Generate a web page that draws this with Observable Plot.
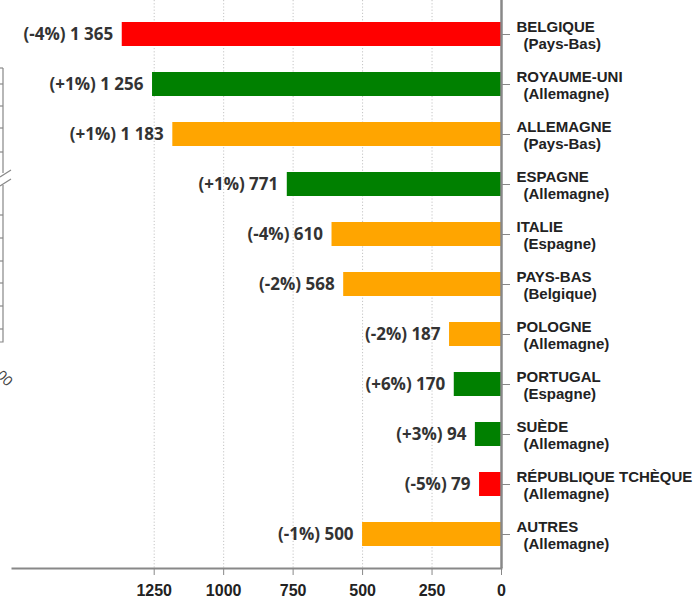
<!DOCTYPE html>
<html>
<head>
<meta charset="utf-8">
<script src="https://cdn.jsdelivr.net/npm/d3@7"></script>
<script src="https://cdn.jsdelivr.net/npm/@observablehq/plot@0.6"></script>
<style>
  html, body { margin: 0; padding: 0; background: #fff; }
  #chart svg { display: block; }
</style>
</head>
<body>
<div id="chart"></div>
<script>
const countries = ["BELGIQUE", "ROYAUME-UNI", "ALLEMAGNE", "ESPAGNE", "ITALIE", "PAYS-BAS", "POLOGNE", "PORTUGAL", "SUÈDE", "RÉPUBLIQUE TCHÈQUE", "AUTRES"];
const partners = ["Pays-Bas", "Allemagne", "Pays-Bas", "Allemagne", "Espagne", "Belgique", "Allemagne", "Espagne", "Allemagne", "Allemagne", "Allemagne"];
const values = [1365, 1256, 1183, 771, 610, 568, 187, 170, 94, 79, 500];
const changes = ["-4%", "+1%", "+1%", "+1%", "-4%", "-2%", "-2%", "+6%", "+3%", "-5%", "-1%"];
const barColors = ["#ff0000", "#008000", "#ffa500", "#008000", "#ffa500", "#ffa500", "#ffa500", "#008000", "#008000", "#ff0000", "#ffa500"];
const xTicks = [0, 250, 500, 750, 1000, 1250];

const data = countries.map((c, i) => ({
  country: c, partner: partners[i], value: values[i], change: changes[i], color: barColors[i]
}));

const fmt = v => d3.format(",")(v).replace(/,/g, " ");

const plot = Plot.plot({
  width: 697,
  height: 598,
  marginTop: 0,
  marginBottom: 30,
  marginLeft: 12,
  marginRight: 196,
  style: { background: "#fff", overflow: "visible" },
  x: { domain: [0, 1760], reverse: true, axis: null },
  y: { domain: countries, range: [8.5, 558.5], paddingInner: 0.52, paddingOuter: 0.26, axis: null },
  color: { type: "identity" },
  marks: [
    Plot.ruleX(xTicks.filter(d => d > 0), { stroke: "#c4c4c4", strokeDasharray: "1.2,2", strokeWidth: 1 }),
    Plot.barX(data, { x: "value", y: "country", fill: "color" }),
    Plot.ruleX([0], { stroke: "#888", strokeWidth: 2.5 }),
    Plot.frame({ anchor: "bottom", stroke: "#888", strokeWidth: 2 }),
    Plot.axisX({ ticks: xTicks, tickSize: 7, tickPadding: 9, tickFormat: d => String(d), fontSize: 16, fontWeight: "bold", fontFamily: "Liberation Sans, Arial, sans-serif", stroke: "#888", fill: "#222", label: null }),
    Plot.axisY({ anchor: "right", tickSize: 8, tickPadding: 0, tickFormat: () => "", stroke: "#888", label: null }),
    Plot.text(data, { x: "value", y: "country", text: d => `(${d.change}) ${fmt(d.value)}`, textAnchor: "end", dx: -9, dy: 0.5, fontSize: 17, fontWeight: "bold", fontFamily: "Open Sans, sans-serif", fill: "#333" }),
    Plot.text(data, { y: "country", frameAnchor: "right", text: "country", textAnchor: "start", dx: 15, dy: -7.5, fontSize: 15, fontWeight: "bold", fontFamily: "Liberation Sans, Arial, sans-serif", fill: "#222" }),
    Plot.text(data, { y: "country", frameAnchor: "right", text: d => `(${d.partner})`, textAnchor: "start", dx: 22, dy: 9.5, fontSize: 15, fontWeight: "bold", fontFamily: "Liberation Sans, Arial, sans-serif", fill: "#222" })
  ]
});

document.getElementById("chart").appendChild(plot);

// decorative fragment of a neighbouring chart visible at the left edge
const svg = d3.select(plot);
const g = svg.append("g").attr("fill", "none").attr("stroke", "#888").attr("stroke-width", 1.2);
g.append("path").attr("d", "M3,68V173M3,185V342H0");
[68, 84, 106, 128, 152, 215, 238, 261, 283, 306, 329].forEach(t => g.append("path").attr("d", `M0,${t}H3`));
g.append("path").attr("d", "M0,177L11,170M0,186L11,179");
svg.append("text").attr("x", 5).attr("y", 383).attr("text-anchor", "middle").attr("transform", "rotate(45,5,378)")
  .attr("font-family", "Liberation Sans, Arial, sans-serif").attr("font-size", 14).attr("fill", "#444").text("00");
</script>
</body>
</html>
